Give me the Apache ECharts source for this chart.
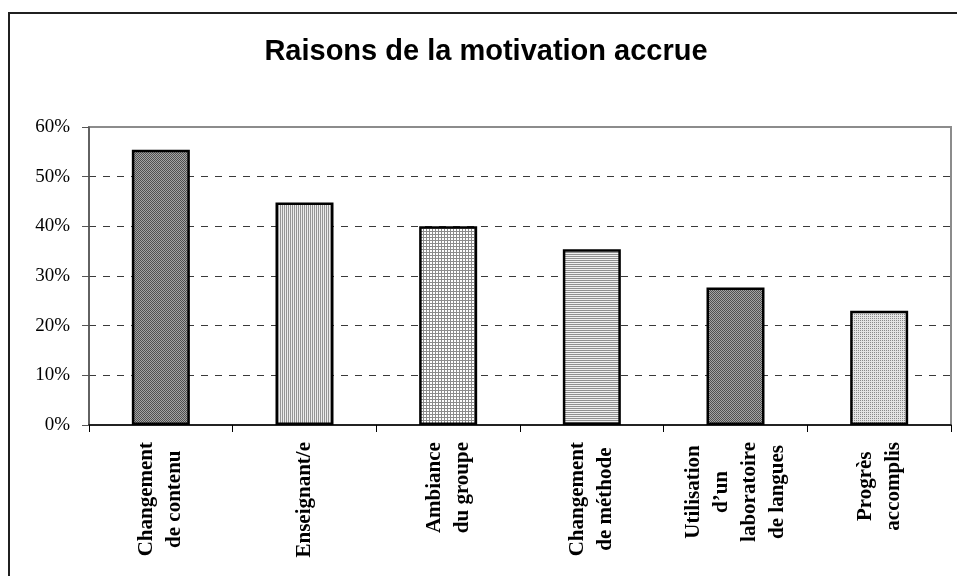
<!DOCTYPE html>
<html>
<head>
<meta charset="utf-8">
<title>Raisons de la motivation accrue</title>
<script src="https://cdn.jsdelivr.net/npm/echarts@6/dist/echarts.min.js"></script>
<style>
  html, body { margin: 0; padding: 0; background: #fff; }
  #chart { width: 957px; height: 576px; }
</style>
</head>
<body>
<div id="chart"></div>
<script>
var categories = [
  'Changement\nde contenu',
  'Enseignant/e',
  'Ambiance\ndu groupe',
  'Changement\nde méthode',
  'Utilisation\nd\u2019un\nlaboratoire\nde langues',
  'Progrès\naccomplis'
];
var values = [55.4, 44.8, 40.0, 35.4, 27.7, 23.0];
var yTicks = [0, 10, 20, 30, 40, 50, 60];

// petits motifs de remplissage (style Excel)
function makePattern(w, h, bg, fg, pts) {
  var c = document.createElement('canvas');
  c.width = w;
  c.height = h;
  var ctx = c.getContext('2d');
  ctx.fillStyle = bg;
  ctx.fillRect(0, 0, w, h);
  ctx.fillStyle = fg;
  pts.forEach(function (p) { ctx.fillRect(p[0], p[1], 1, 1); });
  return { image: c, repeat: 'repeat' };
}

var patterns = [
  makePattern(2, 2, '#a4a4a4', '#505050', [[0, 0], [1, 1]]),            // damier foncé
  makePattern(2, 2, '#ececec', '#959595', [[0, 0], [0, 1]]),            // rayures verticales
  makePattern(3, 3, '#ffffff', '#8c8c8c', [[0, 0], [0, 1], [0, 2], [1, 0], [2, 0]]), // quadrillage
  makePattern(2, 2, '#f0f0f0', '#909090', [[0, 0], [1, 0]]),            // rayures horizontales
  makePattern(2, 2, '#a4a4a4', '#505050', [[0, 0], [1, 1]]),            // damier foncé
  makePattern(2, 2, '#e4e4e4', '#8a8a8a', [[0, 0]])                     // pointillé
];

var chart = echarts.init(document.getElementById('chart'));

var option = {
  animation: false,
  backgroundColor: '#fff',
  title: {
    text: 'Raisons de la motivation accrue',
    left: 481,
    top: 32,
    textAlign: 'center',
    textStyle: {
      fontFamily: 'Liberation Sans, Arial, sans-serif',
      fontWeight: 'bold',
      fontSize: 29,
      color: '#000'
    }
  },
  graphic: [{
    type: 'rect',
    shape: { x: 9, y: 13, width: 1000, height: 700 },
    style: { fill: 'none', stroke: '#202020', lineWidth: 2 },
    silent: true
  }],
  grid: {
    left: 89,
    right: 6,
    top: 127,
    bottom: 151,
    show: true,
    borderColor: '#8c8c8c',
    borderWidth: 2,
    backgroundColor: 'transparent'
  },
  xAxis: {
    type: 'category',
    data: categories,
    boundaryGap: true,
    axisLine: { lineStyle: { color: '#000', width: 1.5 } },
    axisTick: { show: true, length: 7, lineStyle: { color: '#000' } },
    axisLabel: {
      rotate: 90,
      interval: 0,
      margin: 17,
      formatter: function (v) {
        return v.split('\n').map(function (s) { return '{c|' + s + '}'; }).join('\n');
      },
      rich: {
        c: {
          fontFamily: 'Liberation Serif, Times New Roman, serif',
          fontWeight: 'bold',
          fontSize: 21,
          lineHeight: 28,
          color: '#000',
          align: 'center'
        }
      }
    }
  },
  yAxis: {
    type: 'value',
    min: yTicks[0],
    max: yTicks[yTicks.length - 1],
    interval: 10,
    axisLine: { show: true, lineStyle: { color: '#555', width: 1.5 } },
    axisTick: { show: true, length: 7, lineStyle: { color: '#555' } },
    axisLabel: {
      margin: 19,
      formatter: '{value}%',
      fontFamily: 'Liberation Serif, Times New Roman, serif',
      fontSize: 19,
      color: '#000'
    },
    splitLine: {
      show: true,
      showMinLine: false,
      showMaxLine: false,
      lineStyle: { color: '#3a3a3a', width: 1, type: [7, 7] }
    }
  },
  series: [{
    type: 'bar',
    barWidth: 58,
    data: values.map(function (v, i) {
      return {
        value: v,
        itemStyle: {
          color: patterns[i],
          borderColor: '#000',
          borderWidth: 2.5
        }
      };
    })
  }]
};

chart.setOption(option);
</script>
</body>
</html>
